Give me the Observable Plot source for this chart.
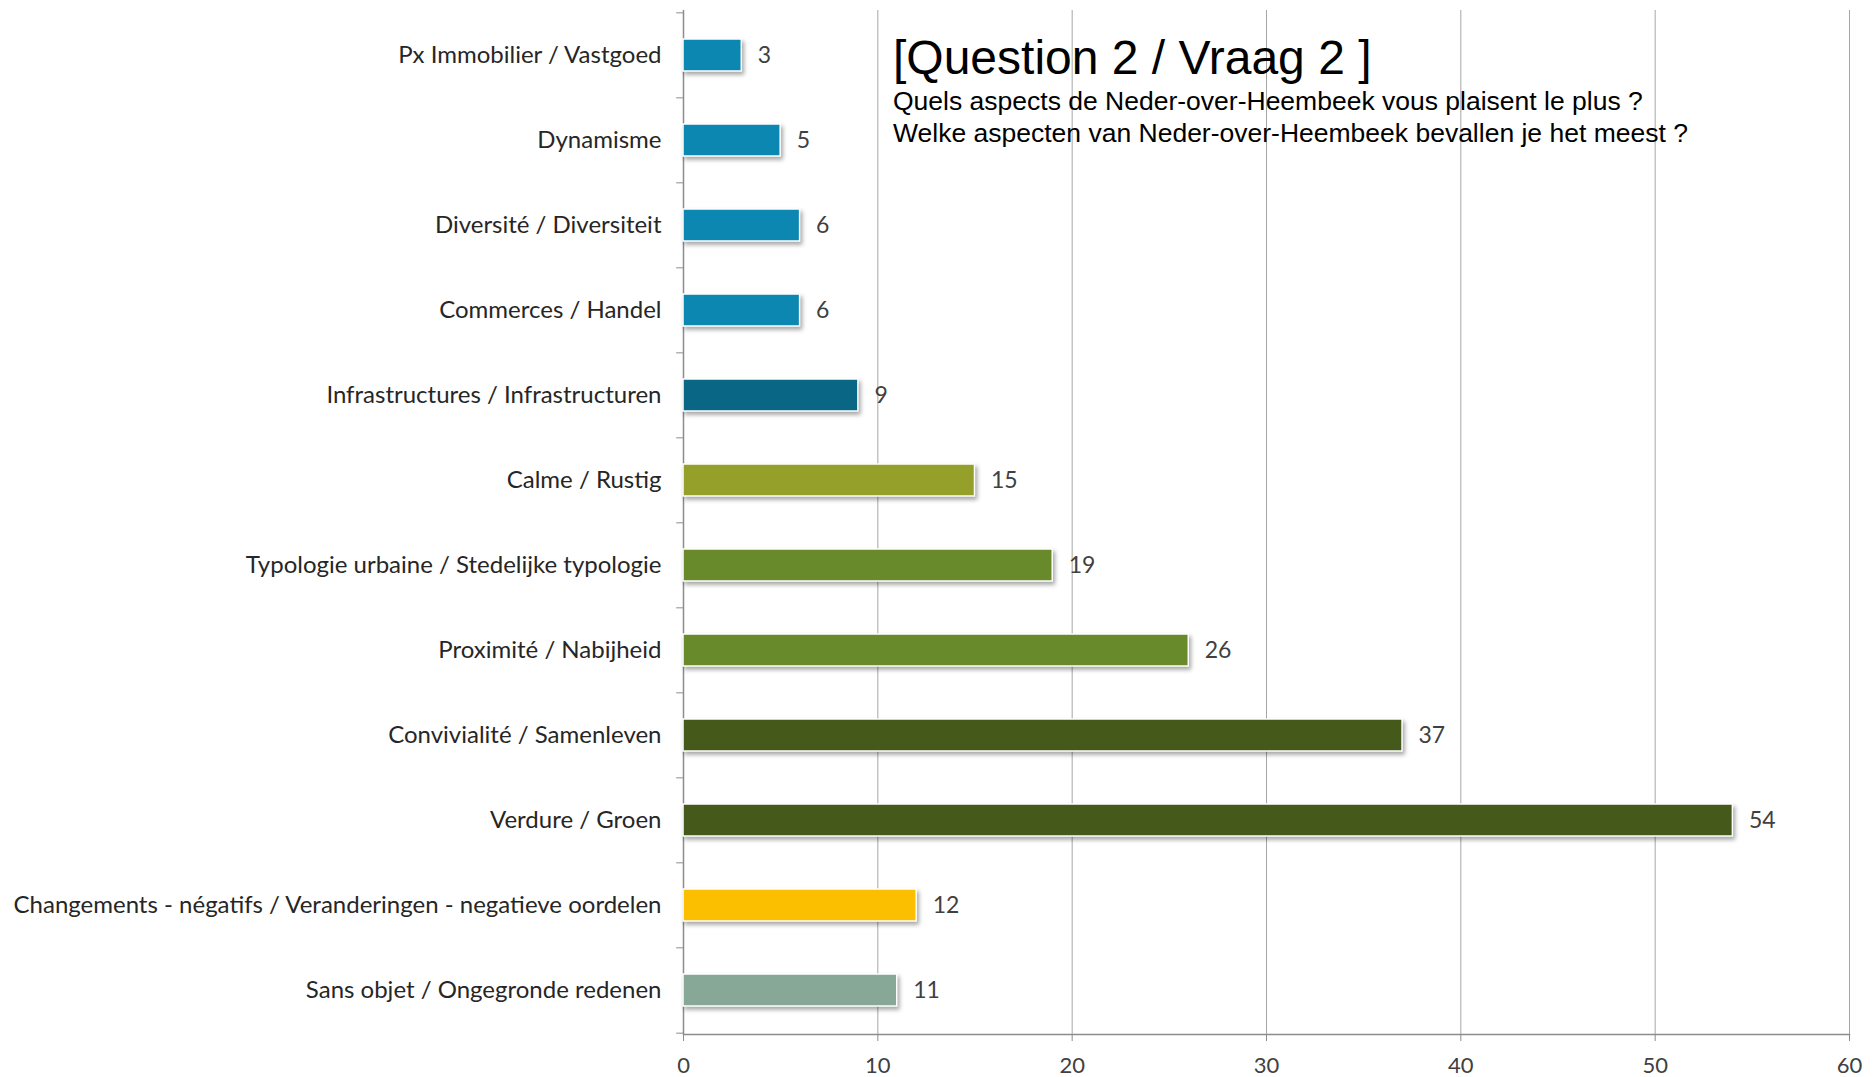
<!DOCTYPE html>
<html>
<head>
<meta charset="utf-8">
<script src="https://cdn.jsdelivr.net/npm/d3@7"></script>
<script src="https://cdn.jsdelivr.net/npm/@observablehq/plot@0.6"></script>
<style>
  html, body { margin: 0; padding: 0; background: #fff; }
  #wrap { position: relative; width: 1873px; height: 1077px; }
  #title { position: absolute; left: 893px; top: 30px; font-family: "Liberation Sans", Arial, sans-serif; color: #000; white-space: nowrap; }
  #title .t { font-size: 48px; line-height: 55px; }
  #title .s { font-size: 26.5px; line-height: 32px; }
  svg [aria-label="bar"] { filter: drop-shadow(2px 3px 2px rgba(0,0,0,0.35)); }
</style>
</head>
<body>
<div id="wrap">
  <div id="chart"></div>
  <div id="title">
    <div class="t">[Question 2 / Vraag 2 ]</div>
    <div class="s">Quels aspects de Neder-over-Heembeek vous plaisent le plus ?</div>
    <div class="s">Welke aspecten van Neder-over-Heembeek bevallen je het meest ?</div>
  </div>
</div>
<script>
const categories = [
  "Px Immobilier / Vastgoed",
  "Dynamisme",
  "Diversité / Diversiteit",
  "Commerces / Handel",
  "Infrastructures / Infrastructuren",
  "Calme / Rustig",
  "Typologie urbaine / Stedelijke typologie",
  "Proximité / Nabijheid",
  "Convivialité / Samenleven",
  "Verdure / Groen",
  "Changements - négatifs / Veranderingen - negatieve oordelen",
  "Sans objet / Ongegronde redenen"
];
const values = [3, 5, 6, 6, 9, 15, 19, 26, 37, 54, 12, 11];
const colors = ["#0b87b2", "#0b87b2", "#0b87b2", "#0b87b2", "#0a6685", "#95a02b", "#688a2b", "#688a2b", "#45591b", "#45591b", "#fbbf00", "#87a797"];
const xTicks = [0, 10, 20, 30, 40, 50, 60];

const data = categories.map((c, i) => ({cat: c, value: values[i], color: colors[i]}));

const W = 1873, H = 1077, mt = 10, mb = 43;
const step = (H - mt - mb) / categories.length;
const font = "Lato, 'Open Sans', sans-serif";

const chart = Plot.plot({
  width: W,
  height: H,
  marginLeft: 683,
  marginRight: 24,
  marginTop: mt,
  marginBottom: mb,
  style: {fontFamily: font, background: "#fff", color: "#404040"},
  x: {domain: [0, 60], axis: null, label: null},
  y: {domain: categories, paddingInner: 0.625, paddingOuter: 0.3125, axis: null, label: null},
  marks: [
    Plot.gridX(xTicks.slice(1), {stroke: "#a6a6a6", strokeOpacity: 1, strokeWidth: 1}),
    Plot.frame({anchor: "bottom", stroke: "#8c8c8c", strokeWidth: 1.5}),
    Plot.axisX({ticks: xTicks, tickSize: 7, tickPadding: 16, fontSize: 22, stroke: "#8c8c8c", fill: "#404040", label: null}),
    Plot.ruleX([0], {stroke: "#8c8c8c", strokeWidth: 1.5}),
    Plot.ruleY(categories, {y: d => d, x1: -0.35, x2: 0, dy: -step / 2, stroke: "#8c8c8c"}),
    Plot.ruleY(categories.slice(-1), {y: d => d, x1: -0.35, x2: 0, dy: step / 2, stroke: "#8c8c8c"}),
    Plot.barX(data, {y: "cat", x: "value", fill: "color", stroke: "#fff", strokeWidth: 1.5}),
    Plot.axisY({tickSize: 0, tickPadding: 22, fontSize: 24, fill: "#262626", textAnchor: "end", label: null}),
    Plot.text(data, {y: "cat", x: "value", text: d => String(d.value), dx: 16, textAnchor: "start", fontSize: 23, fill: "#404040"})
  ]
});
document.getElementById("chart").appendChild(chart);
</script>
</body>
</html>
